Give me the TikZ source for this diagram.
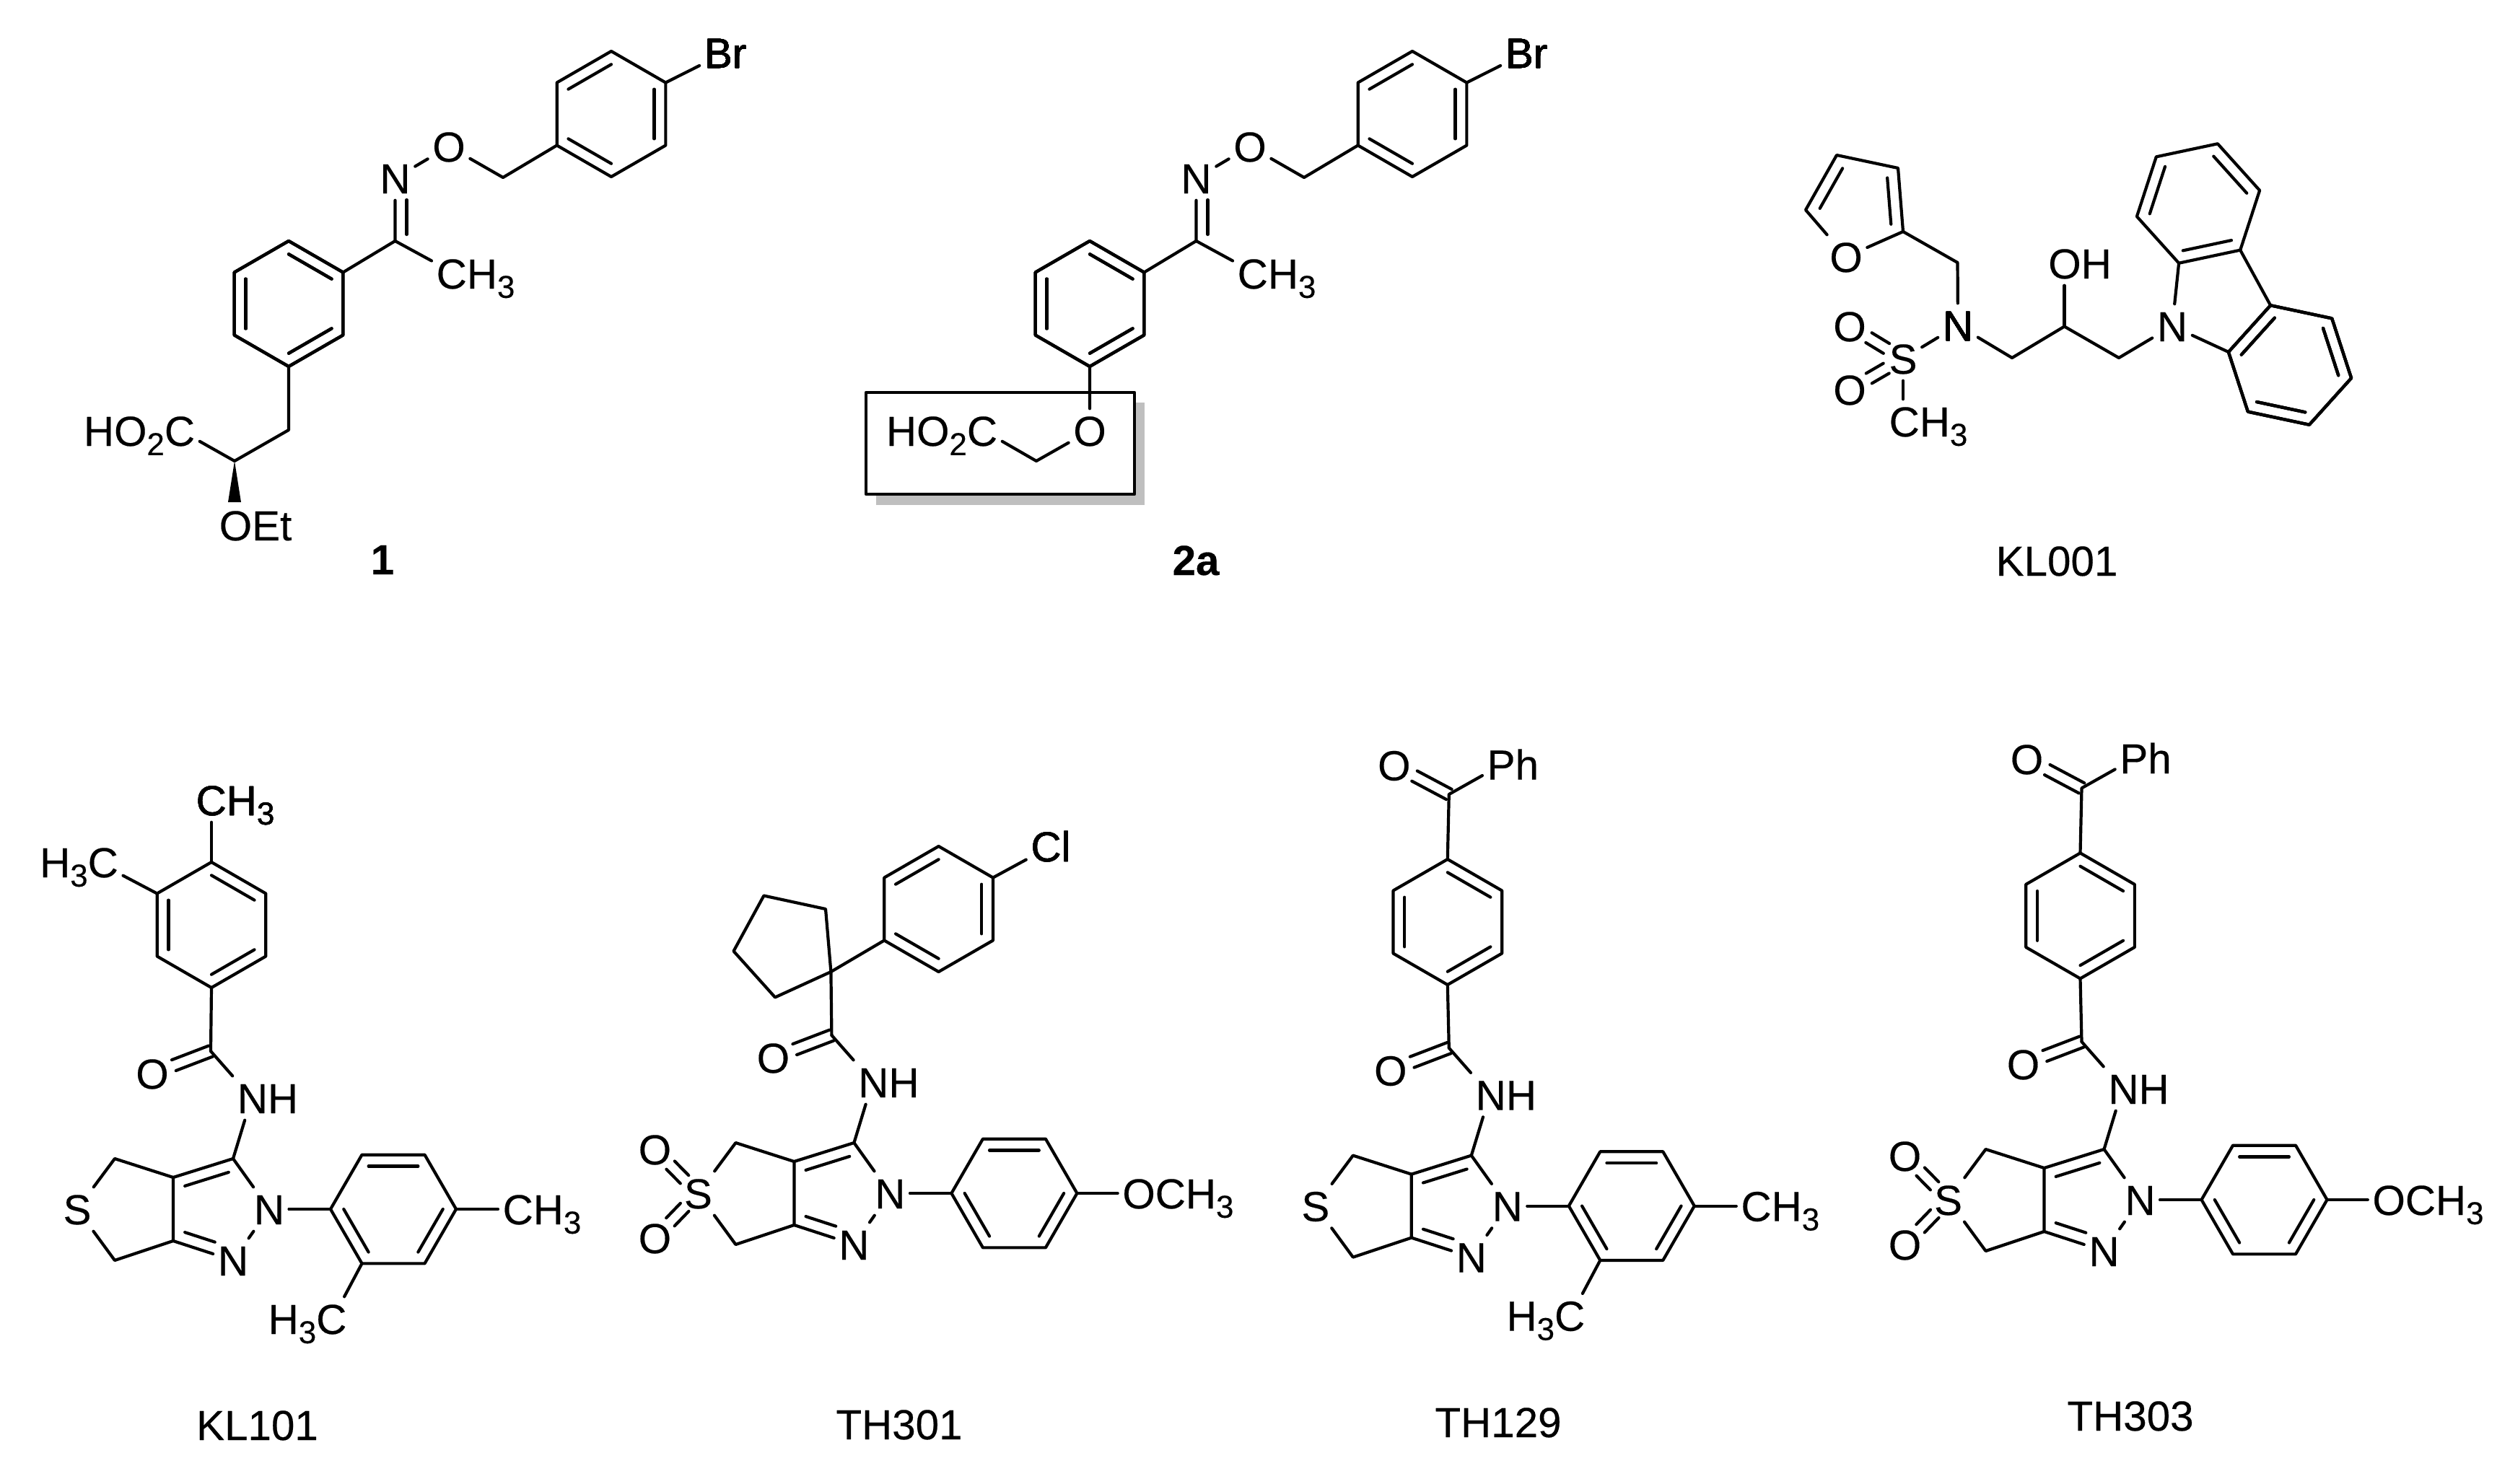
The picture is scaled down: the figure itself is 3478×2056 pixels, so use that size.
\documentclass[tikz,border=0pt]{standalone}
\usepackage{fontspec}
\setmainfont[FakeBold=.3]{Liberation Sans}
\usetikzlibrary{calc}

\definecolor{boxshadow}{gray}{.75}

\newcommand{\subs}[1]{\raisebox{-.22em}{\fontsize{12.5}{13}\selectfont #1}}

\tikzset{
    bond/.style={line width=.42mm, line cap=round, line join=round},
    atom/.style={font=\fontsize{16.6}{18}\selectfont, text height=4.2mm, text depth=0pt,
        inner xsep=.6mm, inner ysep=.9mm},
    cmpd/.style={atom},
    cmpdbold/.style={atom, font=\fontsize{16.6}{18}\selectfont\bfseries}
}

\newcommand{\innerbond}[5][]{
    \draw[bond,#1] ($(#2)!#5!(#4)$) -- ($(#3)!#5!(#4)$);
}

\newcommand{\centbond}[4]{
    \foreach \s/\t in {90/-90,-90/90}
        \draw[bond, shorten <=#3, shorten >=#4] ($(#1)!.8mm!\s:(#2)$) -- ($(#2)!.8mm!\t:(#1)$);
}

\newcommand{\hexring}[4]{
    \coordinate (#1c) at (#2);
    \foreach \k in {1,...,6}
        \coordinate (#1\k) at ($(#1c)+({#3+60*(\k-1)}:8.7mm)$);
    \draw[bond] (#11) -- (#12) -- (#13) -- (#14) -- (#15) -- (#16) -- cycle;
    \foreach \a/\b in {#4}
        \innerbond{#1\a}{#1\b}{#1c}{.21}
}

\newcommand{\oximearm}[2]{
    \hexring{#1a}{847+#2,158}{90}{1/2,3/4,5/6}
    \hexring{#1b}{400+#2,421}{90}{1/6,2/3,4/5}
    \node[atom] (#1br) at (1005+#2,73) {Br};
    \node[atom] (#1o) at (622+#2,203) {O};
    \node[atom] (#1n) at (547.5+#2,247) {N};
    \node[atom, anchor=west] (#1me) at (598+#2,379) {CH\subs{3}};
    \coordinate (#1ch) at (697+#2,246);
    \coordinate (#1cn) at (547.5+#2,334);
    \draw[bond] (#1a6) -- (#1br);
    \draw[bond] (#1a3) -- (#1ch) -- (#1o) -- (#1n) -- (#1cn) -- (#1b6);
    \draw[bond] (#1cn) -- (#1me.164);
    \draw[bond, shorten <=3mm, shorten >=.9mm] ($(#1n)!1.6mm!90:(#1cn)$) -- ($(#1cn)!1.6mm!-90:(#1n)$);
}

\newcommand{\pyrazcore}[3]{
    \node[atom] (#1n1) at (#2,#3) {N};
    \node[atom] (#1n2) at (#2-50,#3+71) {N};
    \node[atom] (#1s) at (#2-266,#3) {S};
    \node[atom] (#1nh) at (#2-2,#3-154) {NH};
    \node[atom] (#1oc) at (#2-162,#3-188) {O};
    \coordinate (#1c3) at (#2-50,#3-70);
    \coordinate (#1ca) at (#2-133,#3-44);
    \coordinate (#1cb) at (#2-133,#3+44);
    \coordinate (#1ct) at (#2-214,#3-70);
    \coordinate (#1cu) at (#2-214,#3+71);
    \coordinate (#1co) at (#2-81,#3-219);
    \coordinate (#1pc) at (#2-73,#3);
    \draw[bond] (#1c3) -- (#1ca) -- (#1cb) -- (#1n2) -- (#1n1) -- (#1c3);
    \draw[bond] (#1ca) -- (#1ct) -- (#1s) -- (#1cu) -- (#1cb);
    \draw[bond] (#1c3) -- (#1nh.224);
    \draw[bond] (#1co) -- (#1nh.north west);
    \innerbond{#1ca}{#1c3}{#1pc}{.27}
    \innerbond[shorten >=2mm]{#1cb}{#1n2}{#1pc}{.27}
    \centbond{#1oc}{#1co}{3.2mm}{0mm}
    \hexring{#1r}{#2+172,#3}{0}{2/3,4/5,6/1}
    \draw[bond] (#1n1) -- (#1r4);
}

\newcommand{\dimethylaryl}[3]{
    \node[atom] (#1me) at (#2+378,#3) {CH\subs{3}};
    \node[atom] (#1mf) at (#2+53,#3+152) {H\subs{3}C};
    \draw[bond] (#1r1) -- (#1me);
    \draw[bond] (#1r5) -- (#1mf.31);
}

\newcommand{\sulfonearyl}[3]{
    \node[atom] (#1oa) at (#2-326,#3-61) {O};
    \node[atom] (#1ob) at (#2-326,#3+62) {O};
    \node[atom] (#1ome) at (#2+399,#3) {OCH\subs{3}};
    \centbond{#1oa}{#1s}{3.1mm}{2.7mm}
    \centbond{#1ob}{#1s}{3.1mm}{2.7mm}
    \draw[bond] (#1r1) -- (#1ome);
}

\newcommand{\benzoylarm}[3]{
    \hexring{#1t}{#2-83,#3-393.6}{90}{1/6,2/3,4/5}
    \coordinate (#1bc) at (#2-81,#3-570.6);
    \node[atom] (#1bo) at (#2-157,#3-611) {O};
    \node[atom] (#1ph) at (#2+7.5,#3-612) {Ph};
    \draw[bond] (#1co) -- (#1t4);
    \draw[bond] (#1t1) -- (#1bc) -- (#1ph.200);
    \centbond{#1bo}{#1bc}{3.2mm}{0mm}
}

\begin{document}
\begin{tikzpicture}[x=.1mm, y=-.1mm]
    \useasboundingbox (0,0) rectangle (3478,2056);

    \oximearm{u}{0}
    \node[atom] (uacid) at (193,597) {HO\subs{2}C};
    \node[atom] (uoet) at (354,728) {OEt};
    \coordinate (ud) at (400,596);
    \coordinate (ue) at (325,639);
    \coordinate (uwl) at (316,696);
    \coordinate (uwr) at (334,696);
    \draw[bond] (ub4) -- (ud) -- (ue) -- (uacid.350);
    \fill (ue) -- (uwl) -- (uwr) -- cycle;
    \node[cmpdbold] (lbla) at (530,775) {1};

    \fill[boxshadow] (1214,558) rectangle (1586,700);
    \draw[bond, fill=white] (1200,544) rectangle (1572,685);
    \oximearm{v}{1110}
    \node[atom] (vacid) at (1305,597) {HO\subs{2}C};
    \node[atom] (vo) at (1510,597) {O};
    \coordinate (vd) at (1436,639);
    \draw[bond] (vb4) -- (vo) -- (vd) -- (vacid.350);
    \node[cmpdbold] (lblb) at (1657,776) {2a};

    \hexring{wa}{3046,282}{252}{1/2,3/4,5/6}
    \hexring{wb}{3173,506}{108}{1/2,3/4,5/6}
    \node[atom] (wna) at (2713,451) {N};
    \node[atom] (wnb) at (3010,452) {N};
    \node[atom] (ws) at (2637,497) {S};
    \node[atom] (woa) at (2563,452) {O};
    \node[atom] (wob) at (2563,540) {O};
    \node[atom] (wme) at (2672,584) {CH\subs{3}};
    \node[atom] (woh) at (2882,365) {OH};
    \node[atom] (wof) at (2558,356) {O};
    \coordinate (wf1) at (2545,215);
    \coordinate (wf2) at (2630,233);
    \coordinate (wf3) at (2637,321);
    \coordinate (wf5) at (2502,291);
    \coordinate (wfc) at (2575,283);
    \coordinate (wch) at (2712.5,364);
    \coordinate (wcd) at (2788,496);
    \coordinate (wce) at (2860.5,452.5);
    \coordinate (wcf) at (2936,496);
    \draw[bond] (wf3) -- (wf2) -- (wf1) -- (wf5) -- (wof) -- (wf3) -- (wch) -- (wna);
    \innerbond{wf1}{wf5}{wfc}{.27}
    \innerbond{wf2}{wf3}{wfc}{.27}
    \draw[bond] (ws) -- (wna) -- (wcd) -- (wce) -- (wcf) -- (wnb) -- (wa1);
    \draw[bond] (wnb) -- (wb2);
    \draw[bond] (wa2) -- (wb1);
    \draw[bond] (wce) -- (woh.south -| wce);
    \draw[bond] (ws) -- (wme.north -| ws);
    \centbond{woa}{ws}{3.1mm}{2.7mm}
    \centbond{wob}{ws}{3.1mm}{2.7mm}
    \node[cmpd] (lblc) at (2850,777) {KL001};

    \pyrazcore{k}{373}{1676}
    \dimethylaryl{k}{373}{1676}
    \hexring{kt}{293,1282}{90}{1/6,2/3,4/5}
    \node[atom] (kmg) at (326,1109) {CH\subs{3}};
    \node[atom] (kmh) at (109.5,1195) {H\subs{3}C};
    \draw[bond] (kco) -- (kt4);
    \draw[bond] (kt1) -- (kmg.south -| kt1);
    \draw[bond] (kt2) -- (kmh.343);
    \node[cmpd] (lbld) at (356.5,1975) {KL101};

    \pyrazcore{t}{1233.4}{1654}
    \sulfonearyl{t}{1233.4}{1654}
    \hexring{tt}{1300.6,1260}{90}{1/2,3/4,5/6}
    \node[atom] (tcl) at (1456,1173) {Cl};
    \coordinate (tq) at (1151.4,1347);
    \coordinate (tpa) at (1144,1260);
    \coordinate (tpb) at (1058.4,1241.5);
    \coordinate (tpc) at (1016.5,1318.4);
    \coordinate (tpd) at (1074,1382.4);
    \draw[bond] (tq) -- (tpa) -- (tpb) -- (tpc) -- (tpd) -- cycle;
    \draw[bond] (tco) -- (tq) -- (tt3);
    \draw[bond] (tt6) -- (tcl);
    \node[cmpd] (lble) at (1246,1974) {TH301};

    \pyrazcore{h}{2088.8}{1671.6}
    \dimethylaryl{h}{2088.8}{1671.6}
    \benzoylarm{h}{2088.8}{1671.6}
    \node[cmpd] (lblf) at (2076,1971) {TH129};

    \pyrazcore{m}{2965.5}{1663}
    \sulfonearyl{m}{2965.5}{1663}
    \benzoylarm{m}{2965.5}{1663}
    \node[cmpd] (lblg) at (2952,1962) {TH303};
\end{tikzpicture}
\end{document}
